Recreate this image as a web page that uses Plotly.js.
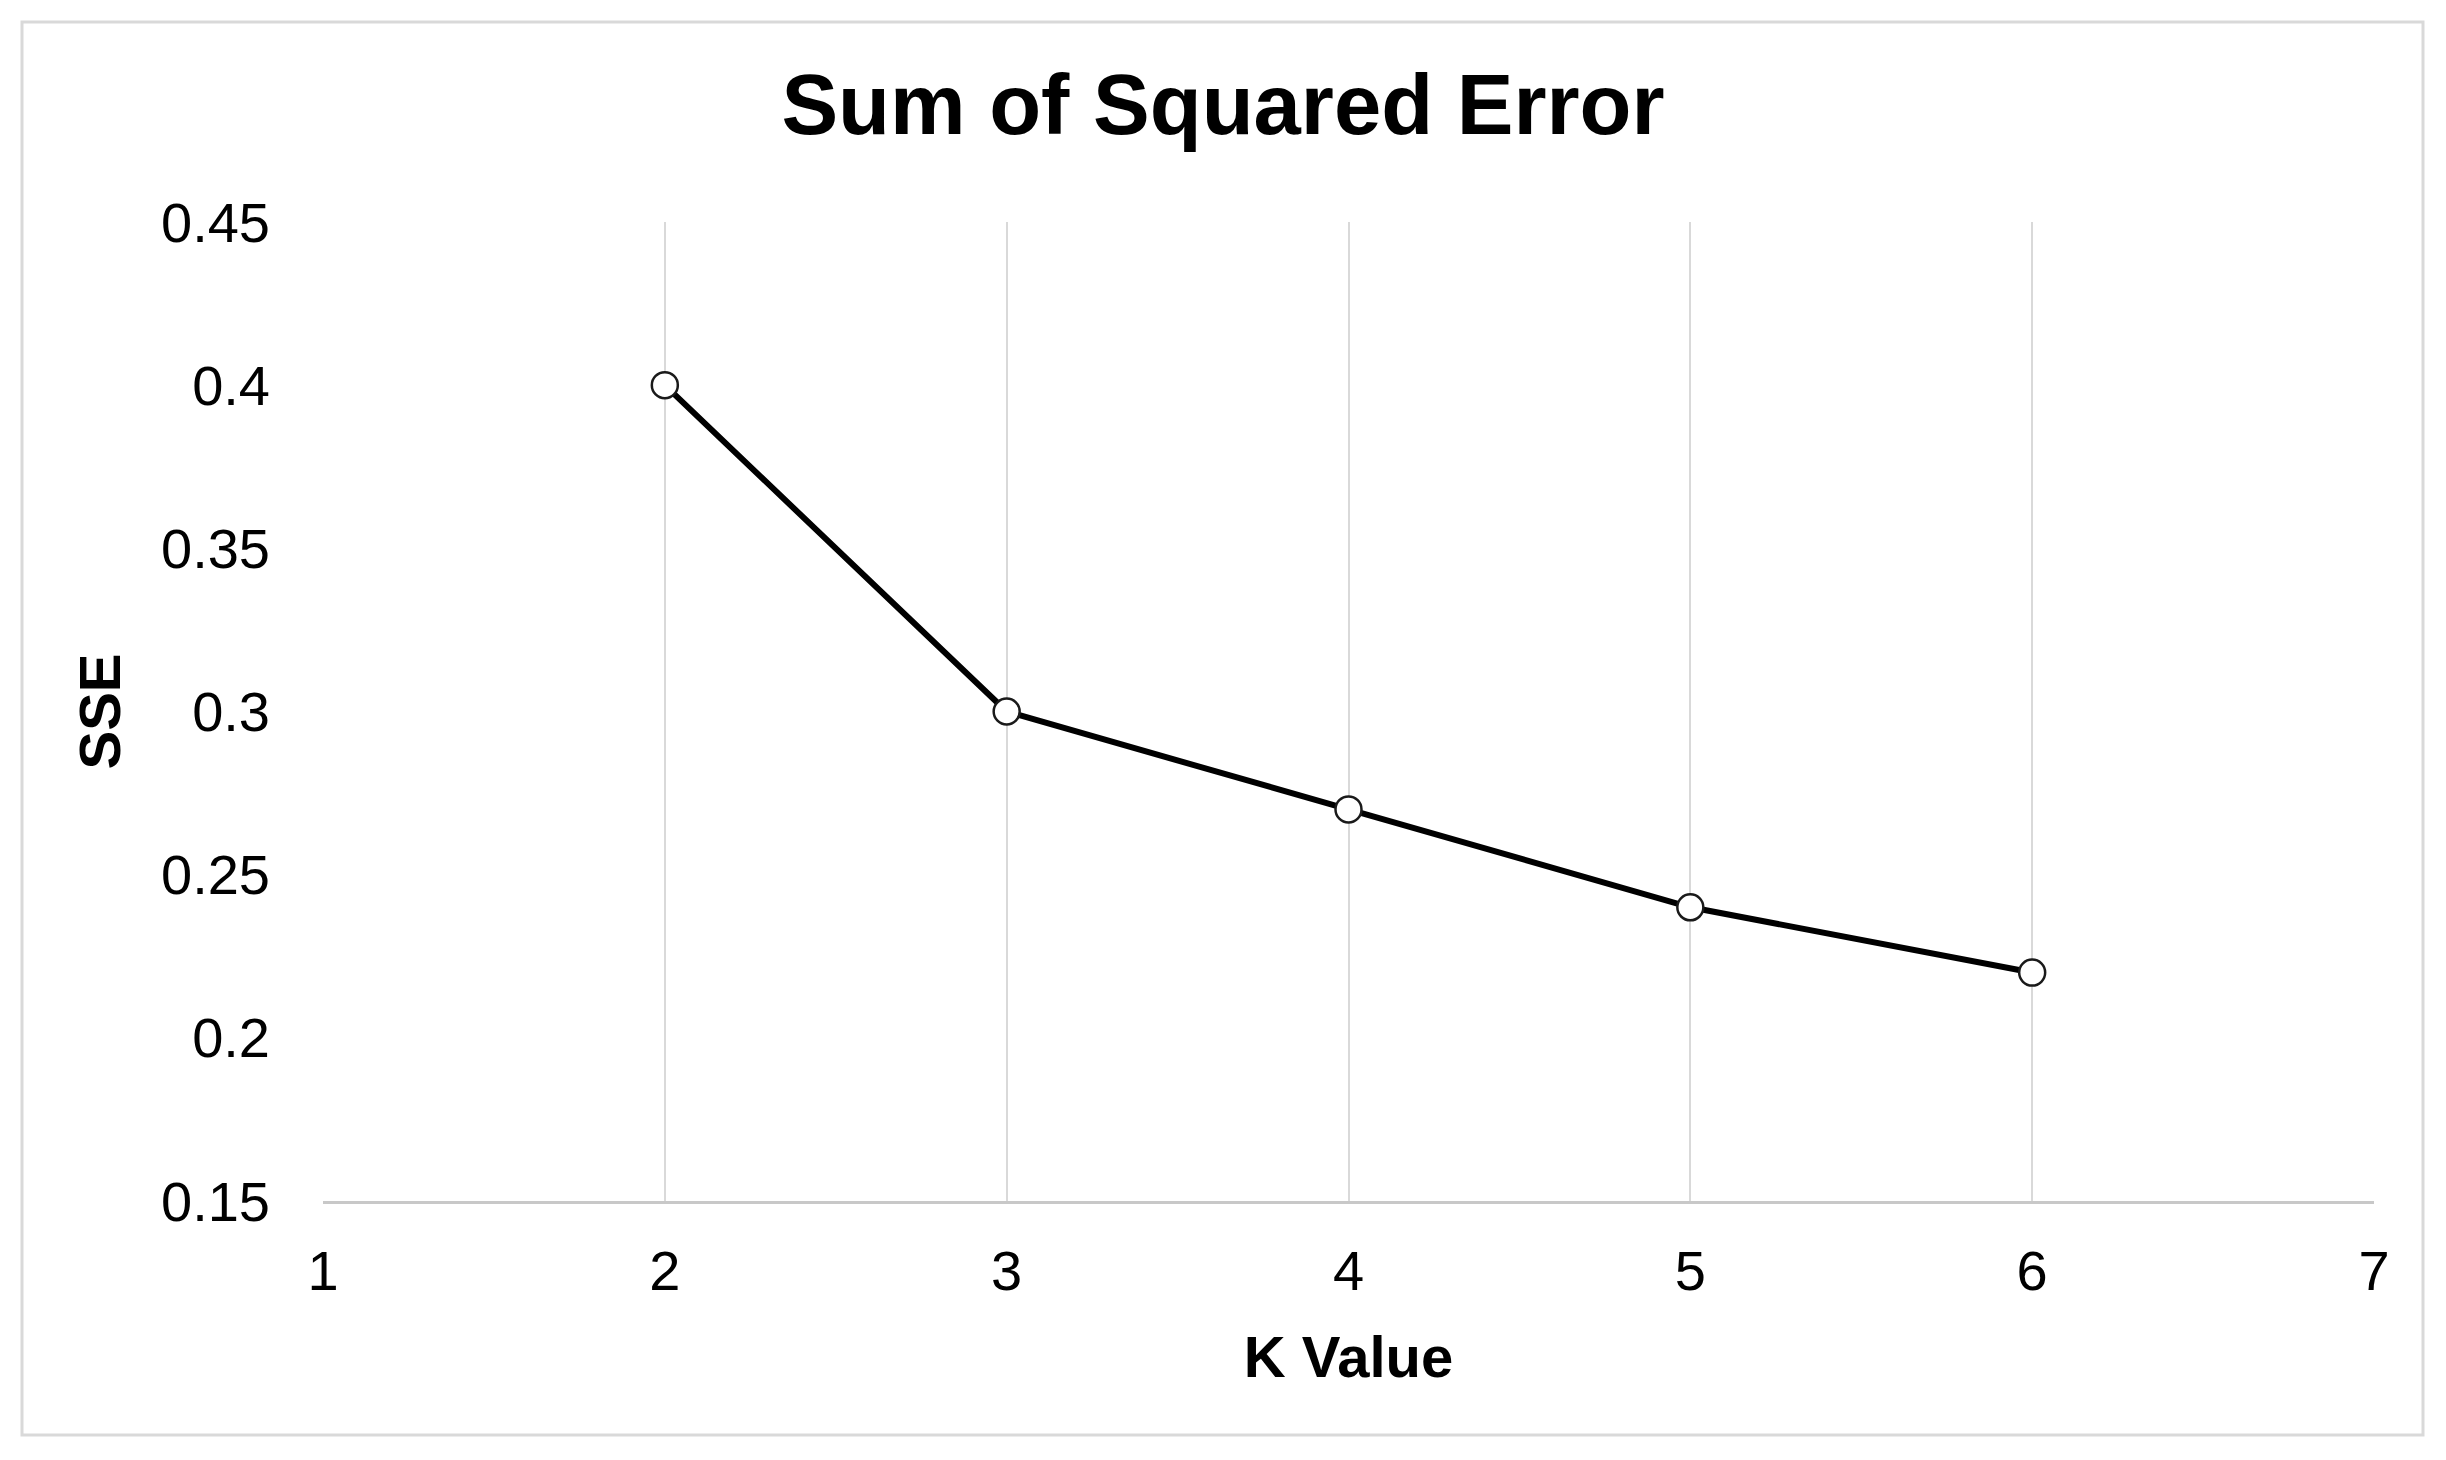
<!DOCTYPE html>
<html>
<head>
<meta charset="utf-8">
<script src="https://cdn.plot.ly/plotly-3.0.1.min.js"></script>
<style>
  html, body { margin: 0; padding: 0; background: #ffffff; }
  #chart { width: 2446px; height: 1460px; }
</style>
</head>
<body>
<div id="chart"></div>
<script>
// ---- data ----
const kValues = [2, 3, 4, 5, 6];
const sseValues = [0.40, 0.30, 0.27, 0.24, 0.22];
const chartTitle = "Sum of Squared Error";
const xTitle = "K Value";
const yTitle = "SSE";
const xTicks = [1, 2, 3, 4, 5, 6, 7];
const yTicks = [0.15, 0.2, 0.25, 0.3, 0.35, 0.4, 0.45];
const yTickLabels = ["0.15", "0.2", "0.25", "0.3", "0.35", "0.4", "0.45"];

const FONT = "Liberation Sans, Arial, sans-serif";

const trace = {
  type: "scatter",
  mode: "lines+markers",
  x: kValues,
  y: sseValues,
  line: { color: "#000000", width: 6 },
  marker: {
    symbol: "circle",
    size: 26,
    color: "#ffffff",
    line: { color: "#1a1a1a", width: 2.5 }
  },
  showlegend: false,
  hoverinfo: "x+y"
};

const layout = {
  width: 2446,
  height: 1460,
  paper_bgcolor: "#ffffff",
  plot_bgcolor: "#ffffff",
  margin: { l: 323, r: 72, t: 222, b: 259, pad: 0 },
  font: { family: FONT, color: "#000000" },
  title: {
    text: chartTitle,
    font: { family: FONT, size: 85, weight: 700, color: "#000000" },
    x: 0.5, xref: "container", xanchor: "center",
    y: 1 - 104 / 1460, yref: "container", yanchor: "middle"
  },
  xaxis: {
    range: [1, 7],
    tickmode: "array",
    tickvals: xTicks,
    ticktext: xTicks.map(String),
    showgrid: true,
    gridcolor: "#d9d9d9",
    gridwidth: 2,
    zeroline: false,
    showline: true,
    linecolor: "#c8c8c8",
    linewidth: 3,
    ticks: "",
    ticklabelstandoff: 19,
    tickfont: { family: FONT, size: 56, color: "#000000" },
    title: {
      text: xTitle,
      font: { family: FONT, size: 58, weight: 700, color: "#000000" },
      standoff: 36
    },
    automargin: false,
    fixedrange: true
  },
  yaxis: {
    range: [0.15, 0.45],
    tickmode: "array",
    tickvals: yTicks,
    ticktext: yTickLabels,
    showgrid: false,
    zeroline: false,
    showline: false,
    ticks: "",
    ticklabelstandoff: 52,
    tickfont: { family: FONT, size: 56, color: "#000000" },
    title: {
      text: yTitle,
      font: { family: FONT, size: 58, weight: 700, color: "#000000" },
      standoff: 21
    },
    automargin: false,
    fixedrange: true
  },
  shapes: [
    {
      type: "rect",
      xref: "paper", yref: "paper",
      x0: (22 - 323) / 2051, x1: (2423 - 323) / 2051,
      y0: (1201 - 1435) / 979, y1: (1201 - 22) / 979,
      line: { color: "#d9d9d9", width: 3 },
      fillcolor: "rgba(0,0,0,0)",
      layer: "below"
    }
  ]
};

Plotly.newPlot("chart", [trace], layout, { displayModeBar: false, staticPlot: true });
</script>
</body>
</html>
